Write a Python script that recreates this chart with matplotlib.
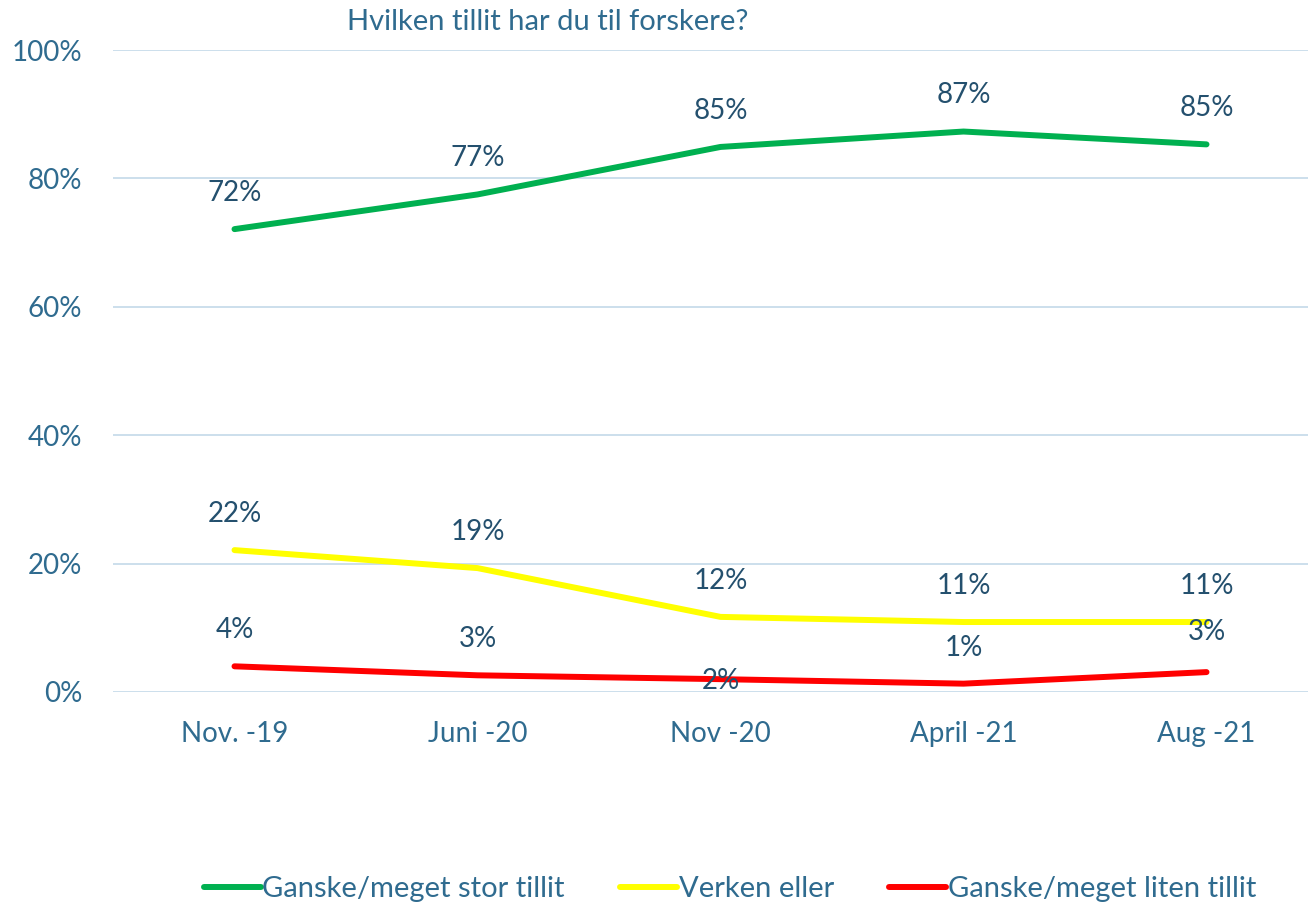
"""Linjediagram: tillit til forskere, tre svaralternativer over tid."""

import matplotlib

matplotlib.use("Agg")
import matplotlib.pyplot as plt
from matplotlib.ticker import FuncFormatter

plt.rcParams["font.family"] = ["Lato", "DejaVu Sans"]

# data lest av figuren
perioder = ["Nov. -19", "Juni -20", "Nov -20", "April -21", "Aug -21"]
stor_tillit = [72.1, 77.5, 84.9, 87.3, 85.3]
verken_eller = [22.1, 19.3, 11.7, 10.9, 10.9]
liten_tillit = [4.0, 2.6, 2.0, 1.3, 3.1]
etiketter_stor = ["72%", "77%", "85%", "87%", "85%"]
etiketter_verken = ["22%", "19%", "12%", "11%", "11%"]
etiketter_liten = ["4%", "3%", "2%", "1%", "3%"]

TEKST = "#2F6B8F"
ETIKETT = "#24506E"
GRID = "#C8DCEB"

fig = plt.figure(figsize=(13.08, 9.05), dpi=100)
ax = fig.add_axes([113 / 1308, 1 - 692 / 905, 1215 / 1308, 642 / 905])

x = list(range(len(perioder)))
serier = [
    (stor_tillit, etiketter_stor, "#00B050", "Ganske/meget stor tillit"),
    (verken_eller, etiketter_verken, "#FFFF00", "Verken eller"),
    (liten_tillit, etiketter_liten, "#FF0000", "Ganske/meget liten tillit"),
]
for verdier, etiketter, farge, navn in serier:
    ax.plot(x, verdier, color=farge, lw=4.3, solid_capstyle="round", label=navn, zorder=3)
    for i, (v, tekst) in enumerate(zip(verdier, etiketter)):
        dy = 26
        if navn.startswith("Ganske/meget liten") and i == 2:
            dy = -1
        elif navn.startswith("Ganske/meget liten") and i == 4:
            dy = 29
        ax.annotate(tekst, (i, v), xytext=(0, dy), textcoords="offset points",
                    ha="center", va="center", fontsize=20, color=ETIKETT, zorder=4)

ax.set_xlim(-0.5, 4.5)
ax.set_ylim(0, 100)
ax.set_yticks([0, 20, 40, 60, 80, 100])
ax.yaxis.set_major_formatter(FuncFormatter(lambda v, _: f"{v:.0f}%"))
ax.set_xticks(x)
ax.set_xticklabels(perioder)
ax.tick_params(axis="both", length=0, labelsize=20, labelcolor=TEKST)
ax.tick_params(axis="y", pad=22)
ax.tick_params(axis="x", pad=21)
ax.grid(axis="y", color=GRID, lw=1.3, zorder=0)
for s in ax.spines.values():
    s.set_visible(False)

fig.text(548 / 1308, 1 - 22 / 905, "Hvilken tillit har du til forskere?",
         ha="center", va="center", fontsize=21, color=TEKST)

leg = fig.legend(loc="center", bbox_to_anchor=(730 / 1308, 1 - 889 / 905), ncol=3,
                 frameon=False, fontsize=21, handlelength=1.95, handletextpad=0.05,
                 columnspacing=1.9, labelcolor=TEKST)

fig.savefig("out.png", dpi=100)
plt.close(fig)
